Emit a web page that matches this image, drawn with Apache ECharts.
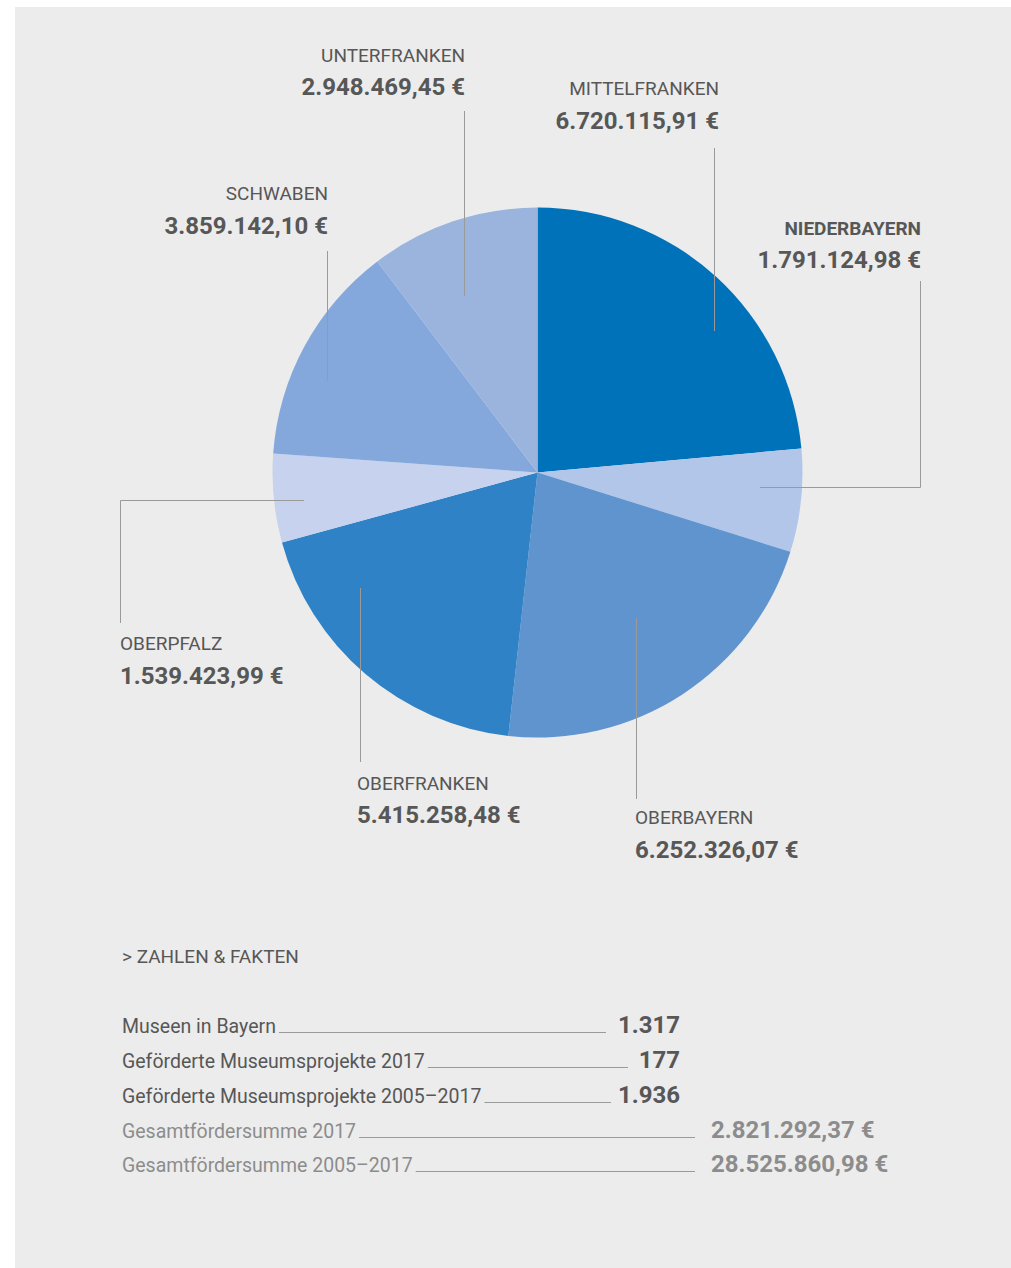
<!DOCTYPE html>
<html>
<head>
<meta charset="utf-8">
<script src="https://cdn.jsdelivr.net/npm/echarts@6/dist/echarts.min.js"></script>
<style>
html, body { margin: 0; padding: 0; background: #ffffff; }
#panel { position: absolute; left: 15px; top: 7px; width: 996px; height: 1261px; background: #ececec; }
#chart { position: absolute; left: 0; top: 0; width: 1011px; height: 1268px; }
</style>
</head>
<body>
<div id="panel"></div>
<div id="chart"></div>
<script>
// ---------------- DATA ----------------
const regions = ['MITTELFRANKEN', 'NIEDERBAYERN', 'OBERBAYERN', 'OBERFRANKEN', 'OBERPFALZ', 'SCHWABEN', 'UNTERFRANKEN'];
const funding = [6720115.91, 1791124.98, 6252326.07, 5415258.48, 1539423.99, 3859142.10, 2948469.45];

const factsTitle = '> ZAHLEN & FAKTEN';
const factLabels = ['Museen in Bayern', 'Geförderte Museumsprojekte 2017', 'Geförderte Museumsprojekte 2005–2017', 'Gesamtfördersumme 2017', 'Gesamtfördersumme 2005–2017'];
const factValues = [1317, 177, 1936, 2821292.37, 28525860.98];
const factIsEuro = [false, false, false, true, true];

// ---------------- STYLE / LAYOUT ----------------
const FONT = 'Roboto, "Noto Sans", sans-serif';
const TEXT_DARK = '#575757';
const TEXT_LIGHT = '#8c8c8c';
const LINE_COLOR = '#9a9a9a';
const highlightRegion = 'NIEDERBAYERN';
const sliceColors = {
  MITTELFRANKEN: '#0072ba',
  NIEDERBAYERN: '#b1c6e8',
  OBERBAYERN: '#5f94cf',
  OBERFRANKEN: '#2f82c6',
  OBERPFALZ: '#c6d2ee',
  SCHWABEN: '#84a8dc',
  UNTERFRANKEN: '#9bb4de'
};
// label anchor (block top) and leader-line route for each region
const labelCfg = {
  MITTELFRANKEN: { x: 719, y: 73.5, align: 'right', line: [[714.5, 331], [714.5, 148]] },
  NIEDERBAYERN:  { x: 921, y: 213, align: 'right', line: [[760, 487.5], [920.5, 487.5], [920.5, 281]] },
  OBERBAYERN:    { x: 635, y: 802.5, align: 'left', line: [[636.5, 618], [636.5, 799]] },
  OBERFRANKEN:   { x: 357, y: 768, align: 'left', line: [[360.5, 588], [360.5, 762]] },
  OBERPFALZ:     { x: 120, y: 628.5, align: 'left', line: [[304, 500.5], [120.5, 500.5], [120.5, 623]] },
  SCHWABEN:      { x: 328, y: 178.5, align: 'right', line: [[327.5, 381], [327.5, 251]] },
  UNTERFRANKEN:  { x: 465, y: 40, align: 'right', line: [[464.5, 296], [464.5, 111]] }
};

const factRowLineY = [1032.5, 1067.5, 1102.5, 1137.5, 1171.5];
const factValueAnchor = [
  { x: 680, align: 'right' }, { x: 680, align: 'right' }, { x: 680, align: 'right' },
  { x: 711, align: 'left' }, { x: 711, align: 'left' }
];
const factLineEnd = [606, 628, 611, 695, 695];

// ---------------- HELPERS ----------------
function fmtDE(v, dec) {
  const fixed = v.toFixed(dec);
  const parts = fixed.split('.');
  const intPart = parts[0].replace(/\B(?=(\d{3})+(?!\d))/g, '.');
  return parts[1] ? intPart + ',' + parts[1] : intPart;
}
const measureCtx = document.createElement('canvas').getContext('2d');
function textWidth(t, font) { measureCtx.font = font; return measureCtx.measureText(t).width; }

// ---------------- FACTS GRAPHIC ----------------
const graphics = [];
graphics.push({
  type: 'text', silent: true,
  style: { text: factsTitle, x: 122, y: 956, fill: TEXT_DARK, font: '19px ' + FONT, textAlign: 'left', textVerticalAlign: 'middle' }
});
factLabels.forEach((lab, i) => {
  const light = i >= 3;
  const col = light ? TEXT_LIGHT : TEXT_DARK;
  const base = factRowLineY[i];
  const labFont = '19.5px ' + FONT;
  const w = textWidth(lab, labFont);
  graphics.push({
    type: 'text', silent: true,
    style: { text: lab, x: 122, y: base - 6.5, fill: col, font: labFont, textAlign: 'left', textVerticalAlign: 'middle' }
  });
  graphics.push({
    type: 'line', silent: true,
    shape: { x1: 122 + w + 3, y1: base, x2: factLineEnd[i], y2: base },
    style: { stroke: LINE_COLOR, lineWidth: 1 }
  });
  const valText = factIsEuro[i] ? fmtDE(factValues[i], 2) + ' €' : fmtDE(factValues[i], 0);
  graphics.push({
    type: 'text', silent: true,
    style: { text: valText, x: factValueAnchor[i].x, y: base - 8, fill: col, font: 'bold 24px ' + FONT, textAlign: factValueAnchor[i].align, textVerticalAlign: 'middle' }
  });
});

// ---------------- CHART ----------------
const pieData = regions.map((n, i) => ({ name: n, value: funding[i] }));
const pieBase = {
  type: 'pie',
  center: [537.5, 472.5],
  radius: 265,
  startAngle: 90,
  clockwise: true,
  avoidLabelOverlap: false,
  silent: true,
  emphasis: { disabled: true }
};

const chart = echarts.init(document.getElementById('chart'), null, { renderer: 'svg', width: 1011, height: 1268 });
chart.setOption({
  animation: false,
  backgroundColor: 'transparent',
  graphic: graphics,
  series: [
    Object.assign({}, pieBase, {
      z: 2,
      itemStyle: { borderWidth: 0 },
      data: pieData.map(d => ({ name: d.name, value: d.value, itemStyle: { color: sliceColors[d.name] } })),
      label: { show: false },
      labelLine: { show: false }
    }),
    // transparent overlay pie carrying labels + leader lines above the slices
    Object.assign({}, pieBase, {
      z: 5,
      itemStyle: { color: 'rgba(0,0,0,0)', borderWidth: 0 },
      data: pieData,
      label: {
        show: true,
        position: 'outside',
        formatter: p => '{' + (p.name === highlightRegion ? 'nb' : 'n') + '|' + p.name + '}\n{v|' + fmtDE(p.value, 2) + ' €}',
        rich: {
          n: { fontFamily: FONT, fontSize: 19, color: TEXT_DARK, lineHeight: 30 },
          nb: { fontFamily: FONT, fontSize: 19, fontWeight: 'bold', color: TEXT_DARK, lineHeight: 30 },
          v: { fontFamily: FONT, fontSize: 24, fontWeight: 'bold', color: TEXT_DARK, lineHeight: 34 }
        }
      },
      labelLine: { show: true, smooth: false, lineStyle: { color: LINE_COLOR, width: 1 } },
      labelLayout: p => {
        const c = labelCfg[regions[p.dataIndex]];
        return { x: c.x, y: c.y, align: c.align, verticalAlign: 'top', labelLinePoints: c.line, hideOverlap: false };
      }
    })
  ]
});
</script>
</body>
</html>
